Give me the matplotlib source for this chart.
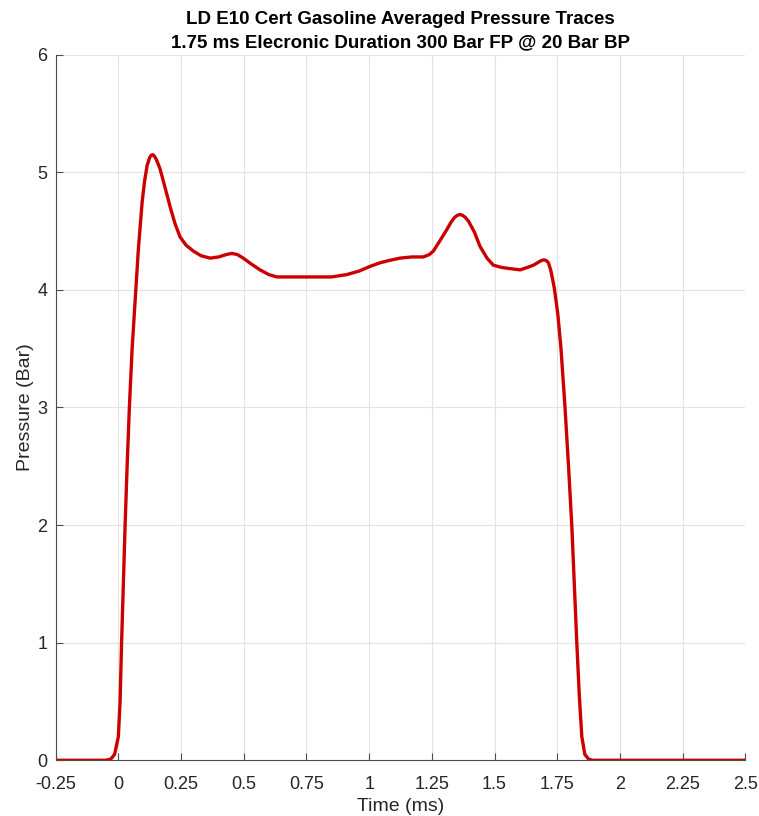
import matplotlib.pyplot as plt
import numpy as np

plt.rcParams['font.family'] = ['Liberation Sans', 'DejaVu Sans']

# averaged pressure trace
time_ms = [-0.25, -0.05, -0.03, -0.015, 0.0, 0.007, 0.013, 0.02, 0.027, 0.035,
           0.044, 0.055, 0.067, 0.08, 0.095, 0.105, 0.115, 0.125, 0.131, 0.137,
           0.143, 0.15, 0.158, 0.166, 0.175, 0.185, 0.195, 0.206, 0.225, 0.246,
           0.27, 0.299, 0.33, 0.366, 0.40, 0.43, 0.452, 0.475, 0.498, 0.53,
           0.565, 0.60, 0.632, 0.70, 0.778, 0.85, 0.911, 0.96, 1.004, 1.043,
           1.08, 1.123, 1.17, 1.216, 1.24, 1.256, 1.28, 1.309, 1.325, 1.340,
           1.352, 1.362, 1.372, 1.384, 1.396, 1.42, 1.442, 1.47, 1.495, 1.53,
           1.565, 1.602, 1.63, 1.655, 1.675, 1.687, 1.697, 1.706, 1.715, 1.725,
           1.738, 1.752, 1.765, 1.781, 1.795, 1.808, 1.818, 1.828, 1.838, 1.848,
           1.86, 1.875, 1.89, 2.5]
pressure_bar = [0.0, 0.0, 0.01, 0.05, 0.2, 0.5, 1.0, 1.5, 2.0, 2.5,
                3.0, 3.5, 3.91, 4.35, 4.75, 4.93, 5.06, 5.125, 5.145, 5.15,
                5.14, 5.115, 5.075, 5.03, 4.96, 4.88, 4.80, 4.71, 4.57, 4.45,
                4.38, 4.33, 4.29, 4.27, 4.28, 4.30, 4.31, 4.30, 4.27, 4.22,
                4.17, 4.13, 4.11, 4.11, 4.11, 4.11, 4.13, 4.16, 4.20, 4.23,
                4.25, 4.27, 4.28, 4.28, 4.30, 4.33, 4.41, 4.51, 4.57, 4.615,
                4.635, 4.64, 4.635, 4.615, 4.585, 4.49, 4.37, 4.27, 4.21, 4.19,
                4.18, 4.17, 4.19, 4.21, 4.235, 4.25, 4.255, 4.25, 4.23, 4.16,
                4.02, 3.80, 3.5, 3.0, 2.5, 2.0, 1.5, 1.0, 0.55, 0.2,
                0.05, 0.01, 0.0, 0.0]

x_ticks = [-0.25, 0, 0.25, 0.5, 0.75, 1, 1.25, 1.5, 1.75, 2, 2.25, 2.5]
x_labels = ['-0.25', '0', '0.25', '0.5', '0.75', '1', '1.25', '1.5', '1.75', '2', '2.25', '2.5']
y_ticks = [0, 1, 2, 3, 4, 5, 6]

fig = plt.figure(figsize=(7.59, 8.16), dpi=100)
ax = fig.add_axes([0.0733, 0.0683, 0.9087, 0.8647])

ax.plot(time_ms, pressure_bar, color='#cc0000', linewidth=2.4,
        solid_joinstyle='round', solid_capstyle='round')

ax.set_xlim(-0.25, 2.5)
ax.set_ylim(0, 6)
ax.set_xticks(x_ticks)
ax.set_xticklabels(x_labels)
ax.set_yticks(y_ticks)

ax.grid(True, color='#e3e3e3', linewidth=0.8)
ax.set_axisbelow(True)
for side in ['top', 'right']:
    ax.spines[side].set_visible(False)
for side in ['left', 'bottom']:
    ax.spines[side].set_color('#4d4d4d')
    ax.spines[side].set_linewidth(0.8)
ax.tick_params(direction='in', length=5, width=0.8, color='#4d4d4d',
               labelsize=13, labelcolor='#262626')
ax.tick_params(axis='x', pad=11)
ax.tick_params(axis='y', pad=6)

ax.set_xlabel('Time (ms)', fontsize=14, color='#262626', labelpad=4)
ax.set_ylabel('Pressure (Bar)', fontsize=14, color='#262626', labelpad=2)
ax.set_title('LD E10 Cert Gasoline Averaged Pressure Traces\n'
             '1.75 ms Elecronic Duration 300 Bar FP @ 20 Bar BP',
             fontsize=13.5, fontweight='bold', color='black', pad=5, linespacing=1.5)

fig.savefig('out.png', dpi=100)
